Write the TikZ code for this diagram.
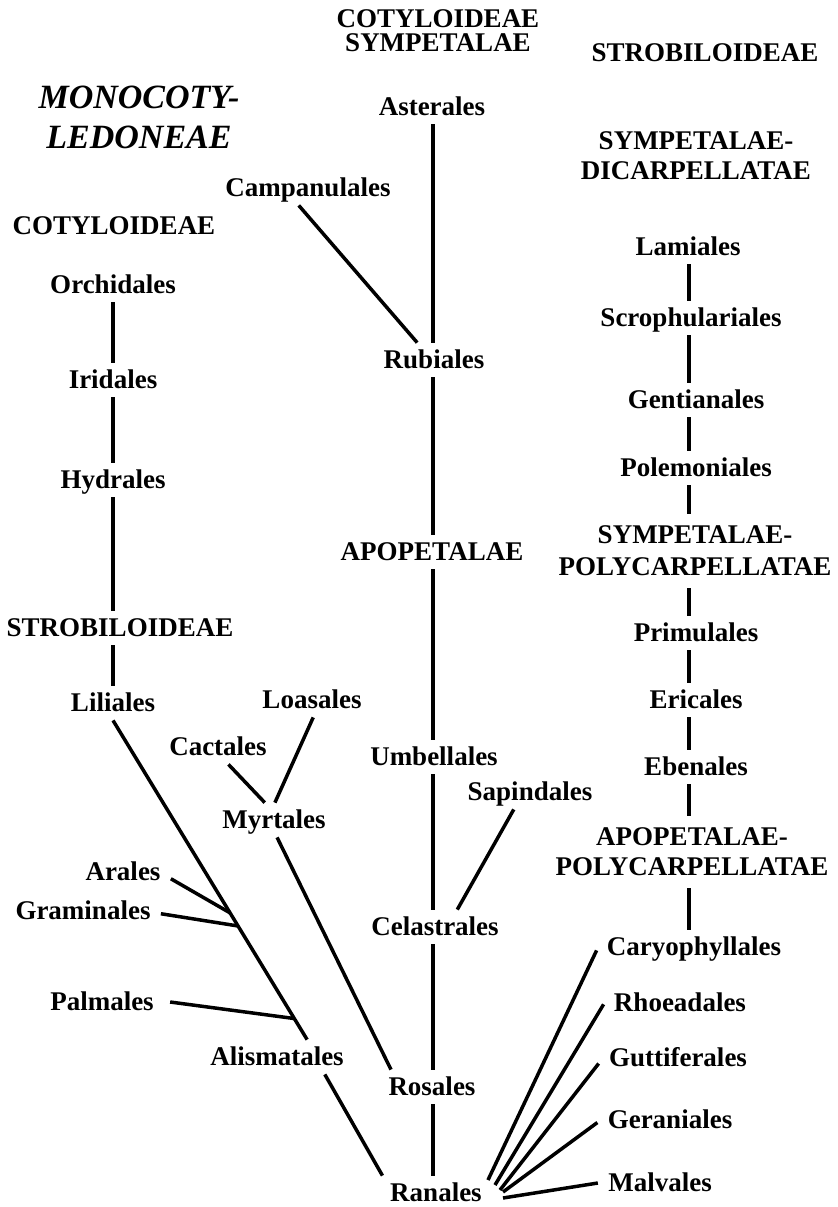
\documentclass[tikz,border=0pt]{standalone}
\usepackage{fontspec}
\setmainfont{Liberation Serif}
\usepackage{tikz}
\usetikzlibrary{calc}

\begin{document}
\begin{tikzpicture}[
  x=0.5pt,y=-0.5pt,
  ord/.style={font=\bfseries\fontsize{13.5}{16}\selectfont,inner xsep=5pt,inner ysep=4.25pt,
    text height=8.5pt,text depth=0pt},
  grp/.style={font=\bfseries\fontsize{13.5}{#1}\selectfont,align=center,inner xsep=5pt,inner ysep=6pt},
  ttl/.style={font=\bfseries\itshape\fontsize{17}{20}\selectfont,align=center},
  link/.style={line width=1.75pt}
]
\useasboundingbox (0,0) rectangle (838,1207);
\coordinate (lax) at (113,0);
\coordinate (midax) at (433,0);
\coordinate (rax) at (689,0);
\node[grp=12pt] (cotsym) at (438,31) {COTYLOIDEAE\\SYMPETALAE};
\node[ord] (strobR) at (705,53) {STROBILOIDEAE};
\node[ttl] (mono) at (139,117) {MONOCOTY-\\LEDONEAE};
\node[ord] (ast) at (432,107) {Asterales};
\node[grp=15pt] (sympdi) at (696,156) {SYMPETALAE-\\DICARPELLATAE};
\node[ord] (camp) at (308,188) {Campanulales};
\node[ord] (cotL) at (114,226) {COTYLOIDEAE};
\node[ord] (lam) at (688,247) {Lamiales};
\node[ord] (orch) at (113,285) {Orchidales};
\node[ord] (scro) at (691,318) {Scrophulariales};
\node[ord] (rub) at (434,360) {Rubiales};
\node[ord] (irid) at (113,380) {Iridales};
\node[ord] (gent) at (696,400) {Gentianales};
\node[ord] (pole) at (696,468) {Polemoniales};
\node[ord] (hyd) at (113,480) {Hydrales};
\node[grp=16pt] (sympoly) at (695,551) {SYMPETALAE-\\POLYCARPELLATAE};
\node[ord] (apo) at (432,552) {APOPETALAE};
\node[ord] (strobL) at (120,628) {STROBILOIDEAE};
\node[ord] (prim) at (696,633) {Primulales};
\node[ord] (loas) at (312,700) {Loasales};
\node[ord] (eric) at (696,700) {Ericales};
\node[ord] (lil) at (113,703) {Liliales};
\node[ord] (cact) at (218,747) {Cactales};
\node[ord] (umb) at (434,757) {Umbellales};
\node[ord] (eben) at (696,767) {Ebenales};
\node[ord] (sap) at (530,792) {Sapindales};
\node[ord] (myrt) at (274,820) {Myrtales};
\node[grp=15pt] (apopoly) at (692,852) {APOPETALAE-\\POLYCARPELLATAE};
\node[ord] (ara) at (123,872) {Arales};
\node[ord] (gram) at (83,911) {Graminales};
\node[ord] (cel) at (435,927) {Celastrales};
\node[ord] (cary) at (694,947) {Caryophyllales};
\node[ord] (palm) at (102,1002) {Palmales};
\node[ord] (rhoe) at (680,1003) {Rhoeadales};
\node[ord] (alis) at (277,1057) {Alismatales};
\node[ord] (gutt) at (678,1058) {Guttiferales};
\node[ord] (ros) at (432,1087) {Rosales};
\node[ord] (gera) at (670,1120) {Geraniales};
\node[ord] (malv) at (660,1183) {Malvales};
\node[ord] (ran) at (436,1193) {Ranales};
\foreach \a/\b in {orch/irid,irid/hyd,hyd/strobL,strobL/lil}
  \draw[link] (\a.south -| lax) -- (\b.north -| lax);
\foreach \a/\b in {ast/rub,rub/apo,apo/umb,umb/cel,cel/ros,ros/ran}
  \draw[link] (\a.south -| midax) -- (\b.north -| midax);
\foreach \a/\b in {lam/scro,scro/gent,gent/pole,pole/sympoly,sympoly/prim,prim/eric,eric/eben,eben/apopoly,apopoly/cary}
  \draw[link] (\a.south -| rax) -- (\b.north -| rax);
\draw[link] (camp.-118) -- (rub.134);
\draw[link] (loas.-86) -- (myrt.87);
\draw[link] (cact.-59) -- (myrt.118);
\draw[link] (myrt.-80) -- (ros.157);
\draw[link] (sap.-133) -- (cel.38);
\draw[link] (lil.south) -- (alis.30)
  coordinate[pos=.603] (jara) coordinate[pos=.644] (jgra) coordinate[pos=.934] (jpal);
\draw[link] (ara.-8) -- (jara);
\draw[link] (gram.-2) -- (jgra);
\draw[link] ([xshift=3pt]palm.east) -- (jpal);
\draw[link] (alis.-20) -- (ran.162);
\foreach \t/\p/\b in {cary/{52,-13}/182,rhoe/{59,-8}/181,gutt/{64,-3}/184,gera/{67,-1}/182,malv/{67,5}/180}
  \draw[link] ([shift={(\p)}]ran.center) -- (\t.\b);
\end{tikzpicture}
\end{document}
